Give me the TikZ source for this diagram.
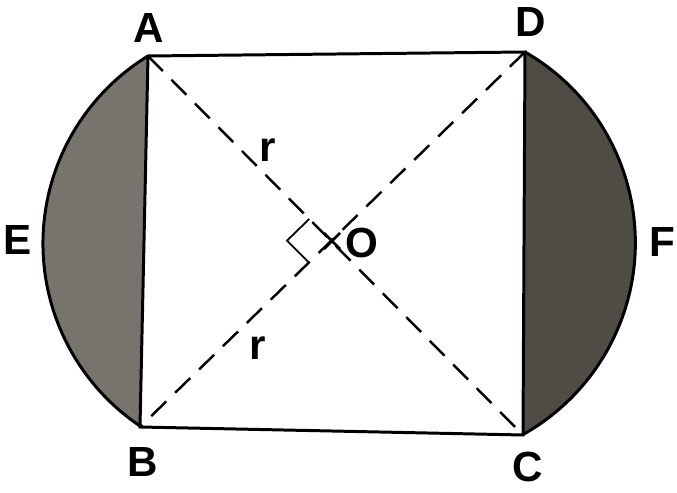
\documentclass[tikz,border=0pt]{standalone}
\usepackage{fontspec}
\setmainfont{Liberation Sans}
\usetikzlibrary{calc}
\definecolor{segLeft}{RGB}{118,116,108}
\definecolor{segRight}{RGB}{78,76,68}

\begin{document}
\begin{tikzpicture}[x=0.02cm,y=-0.02cm,
    edge/.style={line width=1.7pt},
    diag/.style={line width=1.4pt, dash pattern=on 12pt off 7pt},
    rightmark/.style={line width=1pt},
    lbl/.style={inner sep=0pt, font=\fontsize{24}{29}\selectfont\bfseries}]
  \useasboundingbox (0,0) rectangle (677,493);
  % corners of the square
  \coordinate (A) at (148,56);
  \coordinate (D) at (525,52);
  \coordinate (C) at (523,435);
  \coordinate (B) at (140,427);
  \coordinate (O) at (intersection of A--C and B--D);
  % shaded segments
  \fill[segLeft] (A) arc[start angle=238.5, end angle=123.9, radius=220] -- cycle;
  \fill[segRight] (D) arc[start angle=-60.1, end angle=60.6, radius=220] -- cycle;
  \draw[edge] (A) arc[start angle=238.5, end angle=123.9, radius=220];
  \draw[edge] (D) arc[start angle=-60.1, end angle=60.6, radius=220];
  % square and diagonals
  \draw[edge] (A) -- (D) -- (C) -- (B) -- cycle;
  \draw[diag] (A) -- (C);
  \draw[diag] (D) -- (B);
  % right angle and centre
  \coordinate (P1) at ($(O)!0.62cm!(A)$);
  \coordinate (P2) at ($(O)!0.62cm!(B)$);
  \draw[rightmark] (P1) -- ($(P1)+(P2)-(O)$) -- (P2);
  \draw[line width=1.5pt] ($(O)+(-7,-8)$) -- ($(O)+(9,8)$)
                          ($(O)+(-7,8)$) -- ($(O)+(9,-8)$);
  % labels
  \node[lbl] (lA) at (149,28) {A};
  \node[lbl] (lD) at (531,22) {D};
  \node[lbl] (lB) at (143,462) {B};
  \node[lbl] (lC) at (528,467) {C};
  \node[lbl] (lE) at (18,240) {E};
  \node[lbl] (lF) at (662,242) {F};
  \node[lbl] (lO) at (362,243) {O};
  \node[lbl] (r1) at (268,150) {r};
  \node[lbl] (r2) at (258,348) {r};
\end{tikzpicture}
\end{document}
